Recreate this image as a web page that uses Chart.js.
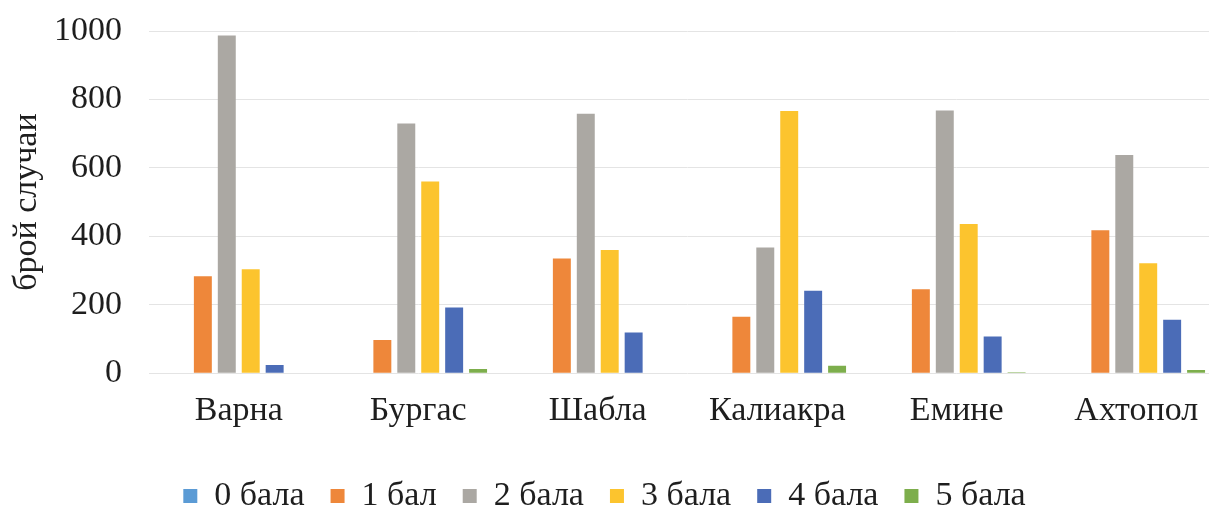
<!DOCTYPE html>
<html>
<head>
<meta charset="utf-8">
<script src="https://cdn.jsdelivr.net/npm/chart.js@4"></script>
<style>
    html, body{
        margin:0;
        padding:0;
        background:#fff;
        overflow:hidden;
    }
    #wrap{
        width:1226px;
        height:513px;
    }
</style>
</head>
<body>

<div id="wrap">
    <canvas id="barChart"></canvas>
</div>

<script>

// DATA

const cities = ["Варна", "Бургас", "Шабла", "Калиакра", "Емине", "Ахтопол"];

const grade0 = [0, 0, 0, 0, 0, 0];
const grade1 = [283, 97, 335, 165, 245, 418];
const grade2 = [987, 730, 758, 367, 768, 638];
const grade3 = [304, 560, 360, 766, 436, 321];
const grade4 = [24, 192, 119, 241, 107, 156];
const grade5 = [0, 12, 0, 22, 3, 9];

const yTicks = [0, 200, 400, 600, 800, 1000];

const seriesNames = ["0 бала", "1 бал", "2 бала", "3 бала", "4 бала", "5 бала"];

// STYLE

const FONT = "'Liberation Serif', 'Times New Roman', serif";
const TEXT = "#1e1e1e";

const colors = [
    "#5b9bd5",
    "#ee873a",
    "#aba8a3",
    "#fcc42e",
    "#4b6cb7",
    "#7dae4c"
];

// legend centred on the visible picture, plot runs past the right edge
const legendFix = {
    id:"legendFix",
    afterLayout(chart){
        chart.legend.right = 1209;
        chart.legend.top += 5;
        chart.legend.bottom += 5;
    }
};

// CHART

new Chart(document.getElementById("barChart"),{

    type:"bar",

    data:{

        labels:cities,

        datasets:[grade0, grade1, grade2, grade3, grade4, grade5].map((d, i) => ({
            label:seriesNames[i],
            data:d,
            backgroundColor:colors[i],
            borderWidth:0,
            barPercentage:0.75,
            categoryPercentage:0.8
        }))
    },

    options:{
        responsive:true,
        maintainAspectRatio:false,
        animation:false,

        layout:{
            padding:{top:31, left:0, right:0, bottom:-5}
        },

        plugins:{
            tooltip:{enabled:false},
            legend:{
                position:"bottom",
                labels:{
                    font:{family:FONT, size:34},
                    color:TEXT,
                    boxWidth:14,
                    boxHeight:14,
                    padding:26
                }
            }
        },

        scales:{

            x:{
                grid:{display:false, drawTicks:false},
                border:{display:false},
                ticks:{
                    font:{family:FONT, size:34},
                    color:TEXT,
                    padding:17,
                    maxRotation:0
                }
            },

            y:{
                min:0,
                max:1000,
                afterFit(scale){
                    scale.width = 149;
                    scale.paddingTop = 0;
                    scale.paddingBottom = 0;
                },
                afterBuildTicks(scale){
                    scale.ticks = yTicks.map(v => ({value:v}));
                },
                grid:{
                    color:"#e4e4e4",
                    lineWidth:1,
                    drawTicks:false
                },
                border:{display:false},
                ticks:{
                    font:{family:FONT, size:34},
                    color:TEXT,
                    padding:27,
                    callback:v => String(v)
                },
                title:{
                    display:true,
                    text:"брой случаи",
                    font:{family:FONT, size:34},
                    color:TEXT,
                    padding:{top:7, bottom:0}
                }
            }
        }
    },

    plugins:[legendFix]
});

</script>
</body>
</html>
